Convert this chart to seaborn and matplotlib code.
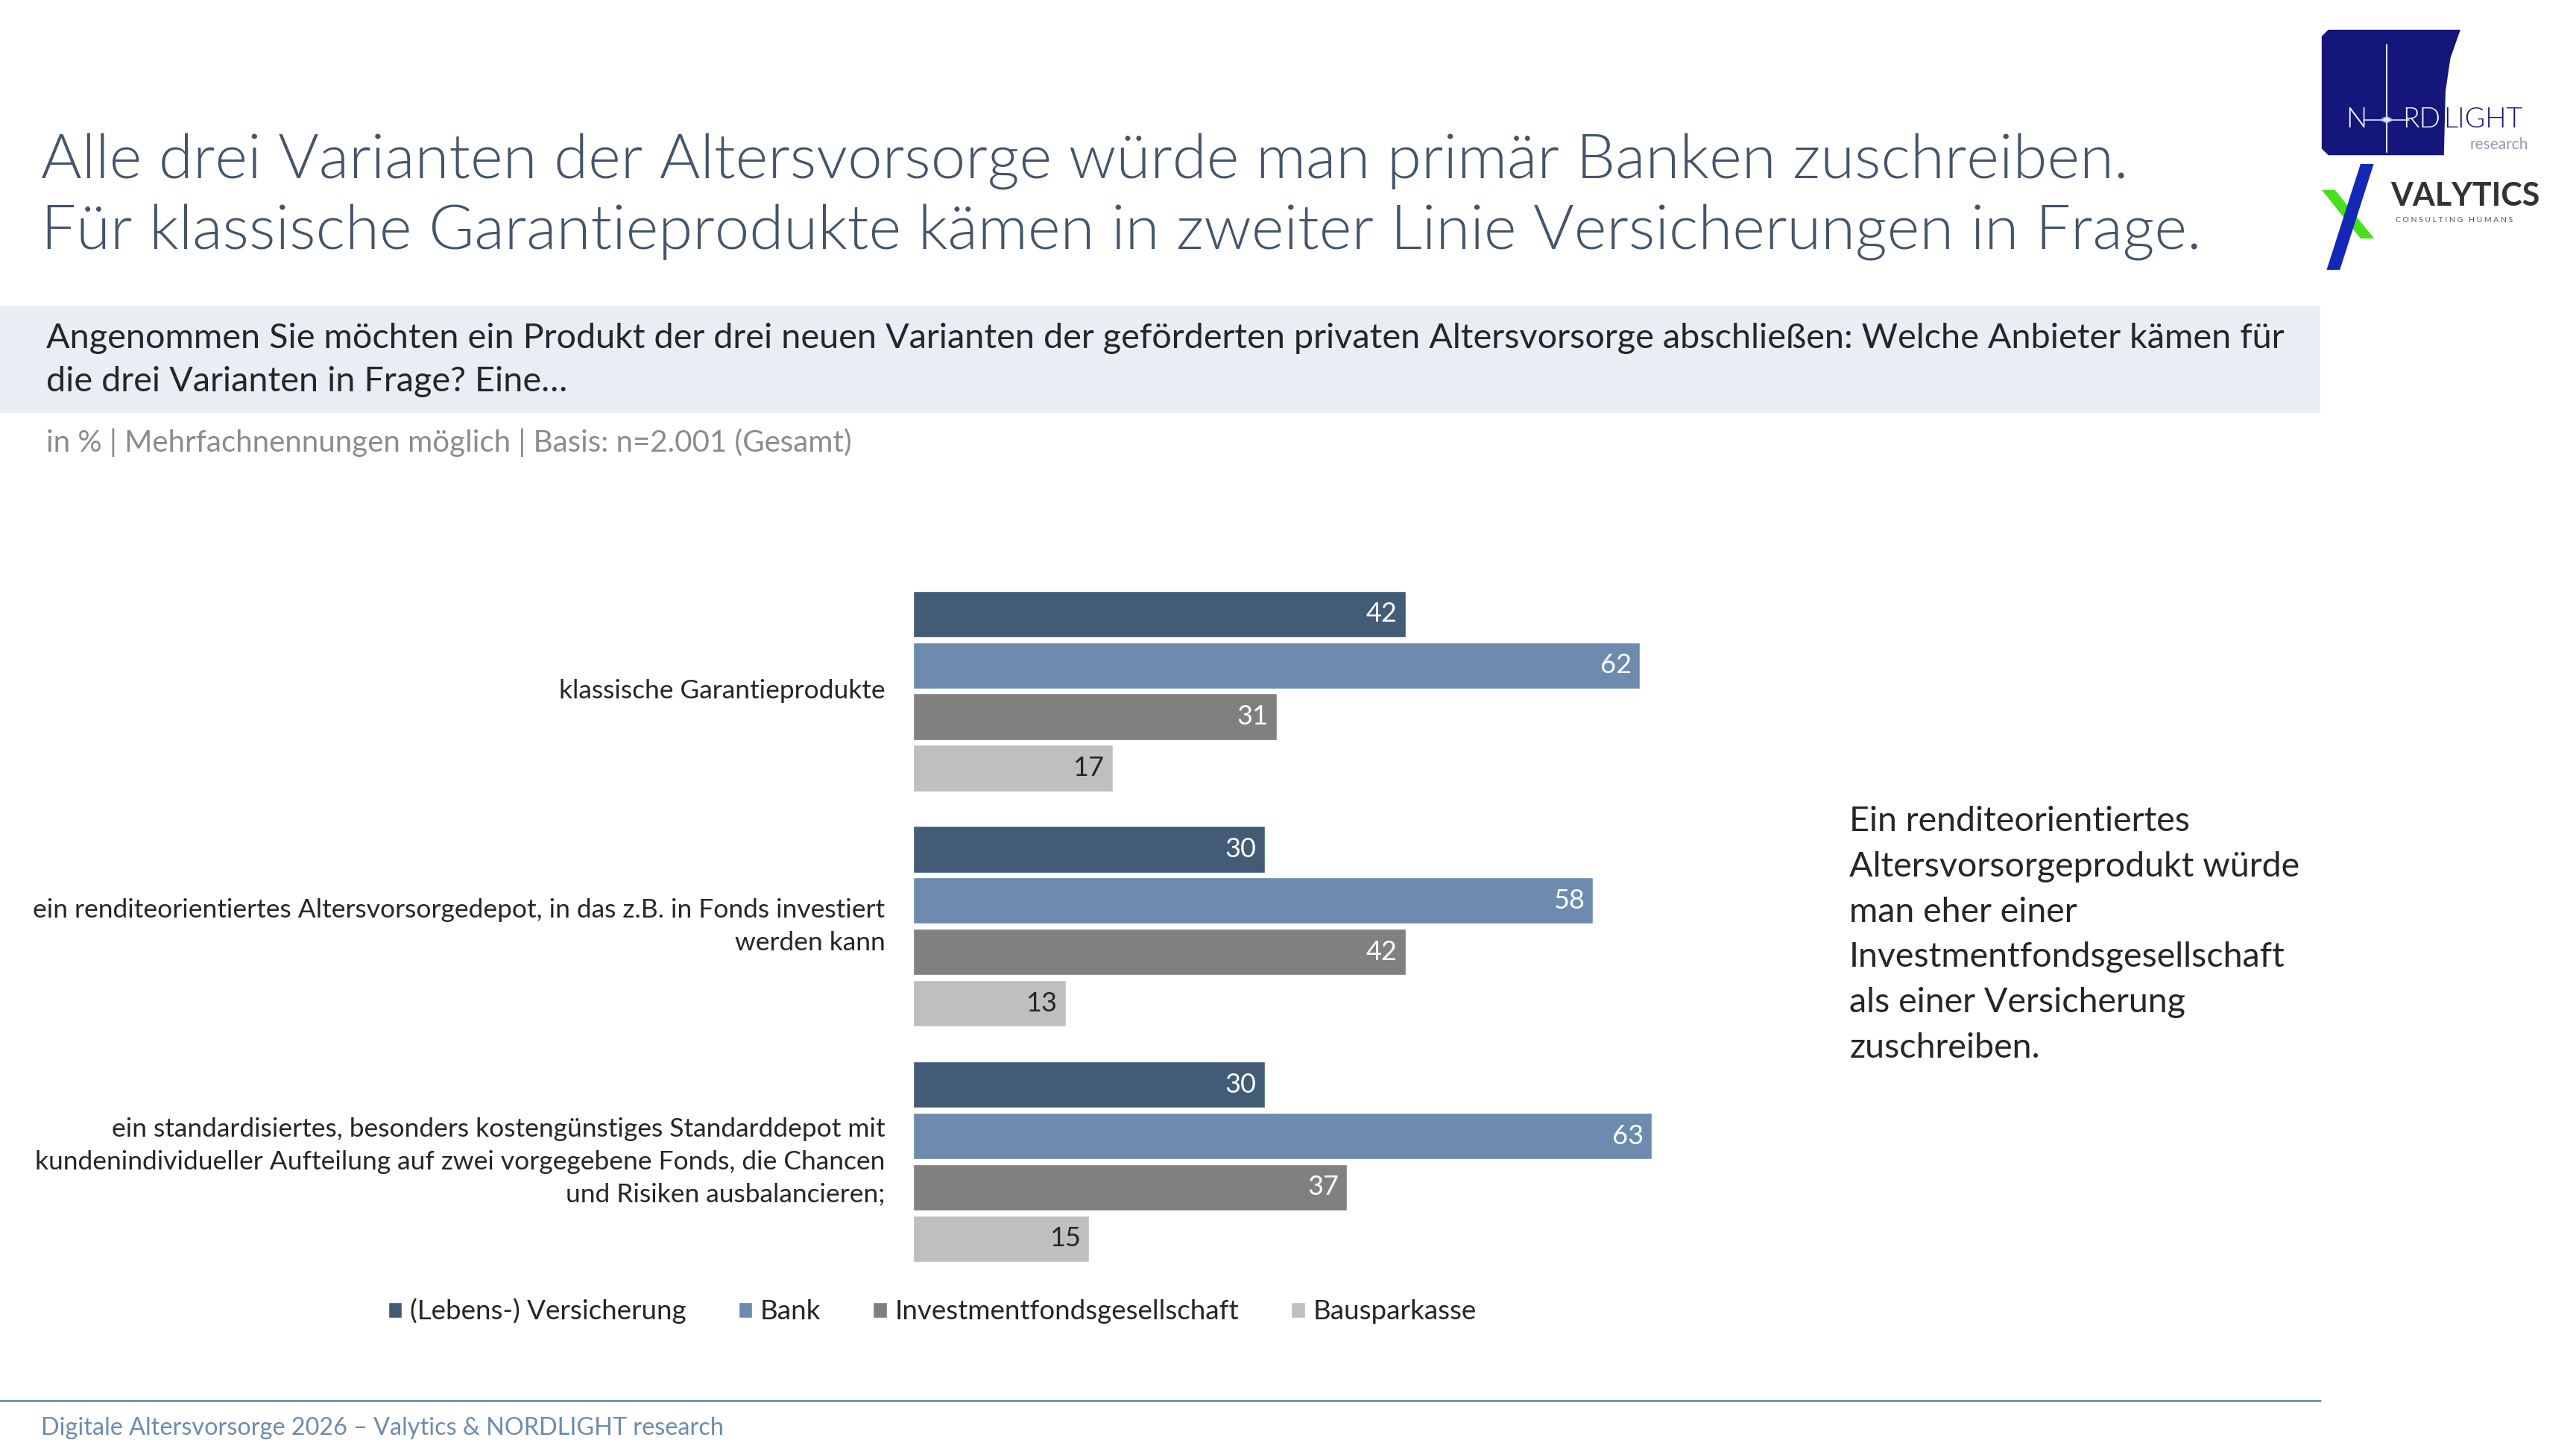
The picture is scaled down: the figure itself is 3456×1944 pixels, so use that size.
import matplotlib
matplotlib.use("Agg")
import matplotlib.pyplot as plt
from matplotlib.patches import Rectangle, Polygon, Circle
import seaborn as sns
import pandas as pd

# ---------------- data ----------------
categories = [
    "klassische Garantieprodukte",
    "ein renditeorientiertes Altersvorsorgedepot, in das z.B. in Fonds investiert\nwerden kann",
    "ein standardisiertes, besonders kostengünstiges Standarddepot mit\nkundenindividueller Aufteilung auf zwei vorgegebene Fonds, die Chancen\nund Risiken ausbalancieren;",
]
providers = ["(Lebens-) Versicherung", "Bank", "Investmentfondsgesellschaft", "Bausparkasse"]
versicherung = [42, 30, 30]
bank = [62, 58, 63]
investment = [31, 42, 37]
bauspar = [17, 13, 15]
colors = ["#425B76", "#6D8BAF", "#808080", "#BFBFBF"]
label_colors = ["white", "white", "white", "#262626"]

title_lines = [
    "Alle drei Varianten der Altersvorsorge würde man primär Banken zuschreiben.",
    "Für klassische Garantieprodukte kämen in zweiter Linie Versicherungen in Frage.",
]
question = ("Angenommen Sie möchten ein Produkt der drei neuen Varianten der geförderten privaten "
            "Altersvorsorge abschließen: Welche Anbieter kämen für\ndie drei Varianten in Frage? Eine…")
subtitle = "in % | Mehrfachnennungen möglich | Basis: n=2.001 (Gesamt)"
side_note = ("Ein renditeorientiertes\nAltersvorsorgeprodukt würde\nman eher einer\n"
             "Investmentfondsgesellschaft\nals einer Versicherung\nzuschreiben.")
footer = "Digitale Altersvorsorge 2026 – Valytics & NORDLIGHT research"

rows = []
for series, name in zip([versicherung, bank, investment, bauspar], providers):
    for cat, v in zip(categories, series):
        rows.append({"cat": cat, "provider": name, "value": v})
df = pd.DataFrame(rows)

# ---------------- figure ----------------
sns.set_theme(style="white")
FONT = ["Lato", "DejaVu Sans"]
plt.rcParams["font.family"] = FONT

W, H = 1560.0, 877.5
def fx(x): return x / W
def fy(y): return 1 - y / H

fig = plt.figure(figsize=(34.56, 19.44), dpi=100)
fig.patch.set_facecolor("white")

TEXT = "#262626"
SLATE = "#44546A"

# title
fig.text(fx(25), fy(98), title_lines[0], fontsize=60, color=SLATE, va="center", ha="left",
         fontweight=300)
fig.text(fx(25), fy(141), title_lines[1], fontsize=60, color=SLATE, va="center", ha="left",
         fontweight=300)

# question band
fig.patches.append(Rectangle((0, fy(250)), fx(1405), fy(185) - fy(250), transform=fig.transFigure,
                             facecolor="#E9EEF4", edgecolor="none", zorder=0))
fig.text(fx(28), fy(218), question, fontsize=33.7, color=TEXT, va="center", ha="left",
         linespacing=1.45)
fig.text(fx(28), fy(268), subtitle, fontsize=29, color="#8C8C8C", va="center", ha="left")

# ---------------- bars ----------------
ax = fig.add_axes([fx(553), fy(774.75), 710 / W, (774.75 - 347.25) / H])
sns.barplot(data=df, y="cat", x="value", hue="provider", order=categories, hue_order=providers,
            palette=colors, orient="h", width=0.873, gap=0.097, saturation=1, ax=ax)
ax.set_xlim(0, 100)
ax.set_ylim(2.5, -0.5)
ax.set_xlabel("")
ax.set_ylabel("")
ax.set_xticks([])
for s in ax.spines.values():
    s.set_visible(False)
ax.tick_params(axis="y", length=0, pad=27, labelsize=25.5, labelcolor=TEXT)
for t in ax.get_yticklabels():
    t.set_multialignment("right")
    t.set_linespacing(1.45)
    t.set_va("center")

for cont, lc in zip(ax.containers, label_colors):
    anns = ax.bar_label(cont, padding=-8, fontsize=26, color=lc)
    for a in anns:
        a.set_ha("right")

leg = ax.get_legend()
handles = leg.legend_handles
leg.remove()
fig.legend(handles, providers, loc="center left", bbox_to_anchor=(fx(220), fy(794)),
           bbox_transform=fig.transFigure, ncol=4, frameon=False, fontsize=26.5,
           handlelength=0.5, handleheight=0.5, handletextpad=0.3, columnspacing=1.9,
           labelcolor=TEXT)

# side note
fig.text(fx(1120), fy(566), side_note, fontsize=33.6, color=TEXT, va="center", ha="left",
         linespacing=1.55)

# footer
fig.add_artist(plt.Line2D([0, fx(1405)], [fy(848), fy(848)], transform=fig.transFigure,
                          color="#6D8BAF", lw=2))
fig.text(fx(25), fy(865), footer, fontsize=23.3, color="#6D8BAF", va="center", ha="left")

# ---------------- logos ----------------
navy = "#15167A"
box = Polygon([(fx(1410), fy(18)), (fx(1490), fy(18)), (fx(1484), fy(35)), (fx(1481), fy(55)),
               (fx(1480), fy(94)), (fx(1410), fy(94)), (fx(1406), fy(90)), (fx(1406), fy(22))],
              closed=True, transform=fig.transFigure, facecolor=navy, edgecolor="none")
fig.patches.append(box)
fig.add_artist(plt.Line2D([fx(1445.3)] * 2, [fy(27), fy(92)], transform=fig.transFigure,
                          color="#DDE3FF", lw=1.5))
fig.add_artist(plt.Line2D([fx(1432), fx(1459)], [fy(72.5)] * 2, transform=fig.transFigure,
                          color="#DDE3FF", lw=1.2))
fig.patches.append(Circle((fx(1445.3), fy(72.5)), 3.4 / W, transform=fig.transFigure,
                          facecolor="#C8D0FF", edgecolor="none", alpha=0.6))
fig.patches.append(Circle((fx(1445.3), fy(72.5)), 2.2 / W, transform=fig.transFigure,
                          facecolor="white", edgecolor="none"))
fig.text(fx(1420.5), fy(72.5), "N", fontsize=27, color="white", va="center", ha="left",
         fontweight=300)
fig.text(fx(1478), fy(72.5), "RD", fontsize=27, color="white", va="center", ha="right",
         fontweight=300)
fig.text(fx(1479.5), fy(72.5), "LIGHT", fontsize=27, color=navy, va="center", ha="left",
         fontweight=300)
fig.text(fx(1531), fy(87.5), "research", fontsize=15, color="#8D9AAD", va="center", ha="right")

green = Polygon([(fx(1406), fy(115)), (fx(1414), fy(115)), (fx(1437.7), fy(144.4)), (fx(1429.5), fy(144.4))],
                closed=True, transform=fig.transFigure, facecolor="#47E01B", edgecolor="none")
blue = Polygon([(fx(1409), fy(163.4)), (fx(1417), fy(163.4)), (fx(1437.5), fy(99.3)), (fx(1429.5), fy(99.3))],
               closed=True, transform=fig.transFigure, facecolor="#1428B8", edgecolor="none")
fig.patches.append(green)
fig.patches.append(blue)
fig.text(fx(1447.6), fy(118.7), "VALYTICS", fontsize=31, color="#333333", va="center", ha="left",
         fontweight="bold")
fig.text(fx(1450.8), fy(133.6), "C O N S U L T I N G   H U M A N S", fontsize=7.5, color="#555555",
         va="center", ha="left")

fig.savefig("out.png", dpi=100, facecolor="white")
